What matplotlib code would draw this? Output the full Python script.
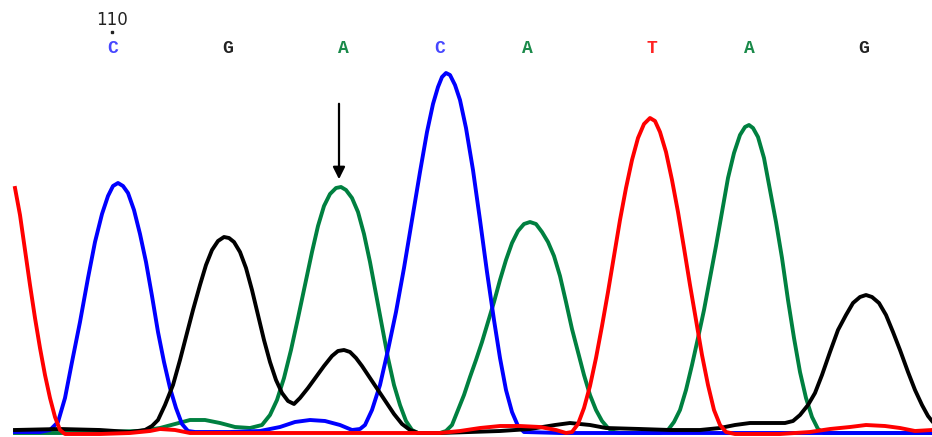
import matplotlib
matplotlib.use("Agg")
import matplotlib.pyplot as plt
import matplotlib.transforms as mtransforms
import numpy as np

# scan positions and signal heights, one channel at a time
blue_x = [15, 40, 50, 58, 65, 72, 80, 88, 95, 102, 108, 113, 118, 123, 128, 134, 140, 146, 152, 158,
          164, 170, 176, 182, 188, 195, 230, 260, 280, 295, 310, 325, 340, 352, 360, 365, 372, 380, 388,
          396, 404, 412, 420, 427, 433, 438, 442, 446, 450, 455, 460, 466, 473, 480, 487, 494, 500, 506,
          512, 518, 524, 560, 640, 720, 800, 932]
blue_y = [1, 1, 3, 11, 35, 71, 111, 155, 191, 219, 237, 247, 250, 247, 240, 223, 199, 171, 137, 101,
          71, 45, 25, 9, 2, 1, 1, 2, 6, 11, 13, 12, 8, 3, 4, 8, 23, 48, 83,
          121, 165, 213, 261, 301, 329, 346, 356, 360, 358, 348, 333, 305, 263, 213, 161, 113, 75, 43,
          21, 7, 1, 0, 0, 0, 0, 0]

black_x = [15, 60, 100, 130, 145, 152, 158, 165, 173, 180, 187, 193, 200, 206, 212, 218, 224, 229, 234,
           240, 246, 252, 258, 264, 270, 276, 282, 288, 294, 300, 308, 316, 324, 332, 338, 344, 350, 356,
           362, 370, 378, 386, 394, 402, 410, 418, 440, 470, 500, 530, 555, 570, 590, 606, 640, 670, 700,
           720, 735, 750, 770, 785, 793, 800, 808, 815, 822, 830, 838, 846, 853, 860, 866, 872, 879, 886,
           893, 900, 908, 915, 922, 928, 932]
black_y = [3, 4, 3, 1, 3, 7, 13, 28, 48, 73, 100, 123, 148, 168, 183, 192, 196, 195, 191,
           181, 165, 143, 118, 93, 71, 53, 40, 32, 29, 35, 45, 56, 67, 77, 82, 83, 81, 75,
           67, 55, 43, 31, 19, 9, 3, 0, 0, 1, 2, 4, 8, 10, 8, 5, 4, 3, 3,
           5, 8, 10, 10, 10, 12, 18, 28, 40, 58, 81, 103, 118, 130, 136, 138, 136, 130, 118,
           101, 83, 61, 43, 28, 17, 12]

green_x = [15, 60, 100, 140, 160, 175, 190, 205, 220, 235, 250, 262, 270, 277, 284, 291, 298, 305, 312,
           318, 324, 330, 336, 341, 346, 352, 358, 364, 370, 376, 382, 388, 394, 400, 406, 412, 418, 440,
           446, 452, 458, 464, 470, 476, 482, 488, 494, 500, 506, 512, 518, 524, 530, 536, 542, 548, 554,
           560, 566, 572, 578, 584, 590, 596, 602, 608, 614, 620, 660, 668, 674, 680, 686, 692, 698, 704,
           710, 716, 722, 728, 734, 740, 745, 749, 753, 758, 764, 770, 776, 782, 788, 794, 800, 806, 812,
           818, 824, 932]
green_y = [0, 0, 1, 2, 5, 9, 13, 13, 10, 6, 5, 8, 18, 33, 55, 83, 115, 148, 181,
           207, 227, 239, 245, 246, 243, 235, 221, 199, 171, 139, 107, 75, 48, 28, 12, 3, 0, 0,
           2, 8, 23, 38, 56, 73, 91, 111, 131, 153, 173, 190, 202, 209, 211, 209, 201, 191, 177,
           157, 131, 104, 81, 58, 38, 23, 12, 5, 1, 0, 0, 3, 11, 23, 43, 68, 95, 123,
           155, 187, 221, 255, 280, 298, 306, 308, 305, 296, 275, 243, 211, 175, 133, 95, 61, 35, 16,
           4, 0, 0]

red_x = [15, 20, 25, 30, 35, 40, 45, 50, 55, 60, 65, 100, 130, 150, 160, 175, 190, 250, 300, 400, 440,
         460, 480, 500, 520, 540, 556, 566, 572, 578, 584, 590, 596, 602, 608, 614, 620, 626, 632, 638,
         644, 650, 655, 660, 666, 672, 678, 684, 690, 696, 702, 708, 714, 720, 726, 735, 780, 810, 830,
         850, 866, 885, 900, 915, 932]
red_y = [245, 218, 183, 148, 115, 85, 58, 35, 16, 3, -1, -1, 0, 2, 4, 3, 0, 0, 0, 0, 0,
         2, 5, 7, 7, 6, 3, 0, 1, 9, 25, 47, 75, 107, 141, 177, 213, 245, 273, 295,
         309, 315, 312, 301, 281, 253, 221, 185, 148, 113, 78, 48, 23, 8, 1, -1, -1, 1, 4,
         6, 8, 7, 5, 2, 3]

base_calls = ["C", "G", "A", "C", "A", "T", "A", "G"]
base_pos = [113, 228, 343, 440, 527, 652, 749, 864]
position_label = "110"
position_at = 112

colors = {"A": "#008040", "C": "#0000ff", "G": "#000000", "T": "#ff0000"}
text_colors = {"A": "#1a8a4a", "C": "#4646ff", "G": "#222222", "T": "#ff2222"}

fig = plt.figure(figsize=(9.32, 4.37), dpi=100)
ax = fig.add_axes([0, 0, 1, 1])

ax.plot(green_x, green_y, color=colors["A"], lw=2.8, zorder=2, solid_joinstyle="round")
ax.plot(blue_x, blue_y, color=colors["C"], lw=2.8, zorder=3, solid_joinstyle="round")
ax.plot(black_x, black_y, color=colors["G"], lw=2.8, zorder=4, solid_joinstyle="round")
ax.plot(red_x, red_y, color=colors["T"], lw=2.8, zorder=5, solid_joinstyle="round")

ax.set_xlim(0, 932)
ax.set_ylim(-4, 433)
ax.axis("off")

# base calls along the top
trans = mtransforms.blended_transform_factory(ax.transData, ax.transAxes)
for b, x in zip(base_calls, base_pos):
    ax.text(x, 0.89, b, transform=trans, ha="center", va="center", fontsize=13,
            family="Liberation Mono", fontweight="bold", color=text_colors[b])
ax.text(position_at, 0.955, position_label, transform=trans, ha="center", va="center",
        fontsize=12, family="DejaVu Sans", color="#222222")
# tick dot under the position number
ax.plot([position_at], [0.927], transform=trans, marker="s", ms=1.5, color="#222222",
        linestyle="none")

# arrow pointing at the third peak (green A)
gx = np.array(green_x)
gy = np.array(green_y)
sel = (gx > 300) & (gx < 380)
peak_x = gx[sel][np.argmax(gy[sel])]
peak_y = gy[sel].max()
ax.annotate("", xy=(peak_x - 2, peak_y + 5), xytext=(peak_x - 2, peak_y + 86),
            arrowprops=dict(arrowstyle="-|>", color="black", lw=1.6, mutation_scale=18),
            zorder=6)

fig.savefig("out.png", dpi=100)
